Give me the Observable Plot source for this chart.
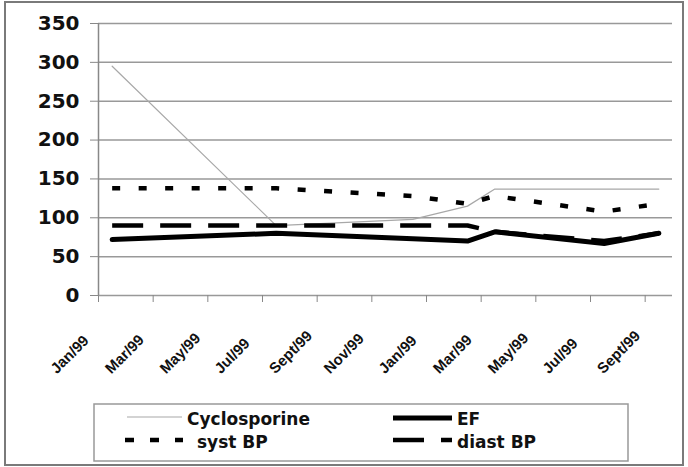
<!DOCTYPE html>
<html><head><meta charset="utf-8">
<script src="https://cdn.jsdelivr.net/npm/d3@7"></script>
<script src="https://cdn.jsdelivr.net/npm/@observablehq/plot@0.6"></script>
<style>
html,body{margin:0;padding:0;background:#fff;}
#frame{position:absolute;left:4px;top:1px;width:676px;height:461px;border:2px solid #7a7a7a;}
#chart{position:absolute;left:0;top:0;}
#legend{position:absolute;left:93px;top:403px;}
</style></head><body>
<div id="frame"></div><div id="chart"></div><div id="legend"></div>
<script>
// Month categories: 21 monthly slots, labelled every second month
const tickLabels = ["Jan/99","Mar/99","May/99","Jul/99","Sept/99","Nov/99","Jan/99","Mar/99","May/99","Jul/99","Sept/99"];
const monthCount = 21;
// Months (slot index) on which values were recorded
const monthIndex = [0, 6, 11, 13, 14, 18, 20];
const cyclosporine = [295, 90, 98, 115, 137, 137, 137];
const ef = [72, 80, 73, 70, 82, 67, 80];
const systBP = [138, 138, 128, 118, 128, 108, 118];
const diastBP = [90, 90, 90, 90, 82, 70, 80];
const yTicks = [0, 50, 100, 150, 200, 250, 300, 350];

const rows = (vals) => monthIndex.map((m, k) => ({x: m + 0.5, y: vals[k]}));
const labelRows = tickLabels.map((t, k) => ({x: k * 2 + 0.5, t}));

const plot = Plot.plot({
  width: 688, height: 400,
  marginLeft: 98, marginRight: 16, marginTop: 23, marginBottom: 105,
  x: {domain: [0, monthCount], axis: null},
  y: {domain: [0, 350], axis: null},
  style: {fontFamily: "'Liberation Sans', Arial, sans-serif", background: "transparent", overflow: "visible"},
  marks: [
    Plot.gridY(yTicks, {stroke: "#999", strokeOpacity: 1, strokeWidth: 1.5}),
    Plot.ruleX([0], {stroke: "#888", strokeWidth: 1.5}),
    Plot.axisY({ticks: yTicks, tickSize: 8, tickPadding: 11, stroke: "#888", fill: "#111",
      fontSize: 20, fontWeight: "bold", fontFamily: "DejaVu Sans", label: null}),
    Plot.axisX({ticks: d3.range(0, monthCount, 2), tickSize: 7, tickFormat: () => "", stroke: "#888", label: null}),
    Plot.text(labelRows, {x: "x", text: "t", frameAnchor: "bottom", rotate: -45, textAnchor: "start",
      dx: -55.5, dy: 79, fontSize: 15, fontWeight: "bold", fontFamily: "Liberation Sans", fill: "#111"}),
    Plot.line(rows(cyclosporine), {x: "x", y: "y", stroke: "#a8a8a8", strokeWidth: 1.2}),
    Plot.line(rows(ef), {x: "x", y: "y", stroke: "#000", strokeWidth: 5}),
    Plot.line(rows(systBP), {x: "x", y: "y", stroke: "#000", strokeWidth: 4.5, strokeDasharray: "8,18.5", strokeLinecap: "butt"}),
    Plot.line(rows(diastBP), {x: "x", y: "y", stroke: "#000", strokeWidth: 4.5, strokeDasharray: "31,17", strokeLinecap: "butt"})
  ]
});
document.getElementById("chart").appendChild(plot);

// Legend
const legendItems = [
  {name: "Cyclosporine", x1: 34, x2: 89, y: 14, tx: 94, ty: 22, stroke: "#a8a8a8", w: 1.2, dash: null},
  {name: "EF", x1: 300, x2: 359, y: 15, tx: 364, ty: 22, stroke: "#000", w: 5, dash: null},
  {name: "syst BP", x1: 32, x2: 90, y: 37, tx: 104, ty: 45, stroke: "#000", w: 4.5, dash: "9,16"},
  {name: "diast BP", x1: 300, x2: 359, y: 37, tx: 364, ty: 45, stroke: "#000", w: 4.5, dash: "31,17"}
];
const svg = d3.select("#legend").append("svg").attr("width", 537).attr("height", 60);
svg.append("rect").attr("x", 1).attr("y", 1).attr("width", 534).attr("height", 57)
  .attr("fill", "none").attr("stroke", "#999").attr("stroke-width", 1.5);
for (const it of legendItems) {
  svg.append("line").attr("x1", it.x1).attr("x2", it.x2).attr("y1", it.y).attr("y2", it.y)
    .attr("stroke", it.stroke).attr("stroke-width", it.w).attr("stroke-dasharray", it.dash);
  svg.append("text").attr("x", it.tx).attr("y", it.ty).text(it.name)
    .attr("font-family", "DejaVu Sans").attr("font-weight", "bold").attr("font-size", 17).attr("fill", "#111");
}
</script>
</body></html>
